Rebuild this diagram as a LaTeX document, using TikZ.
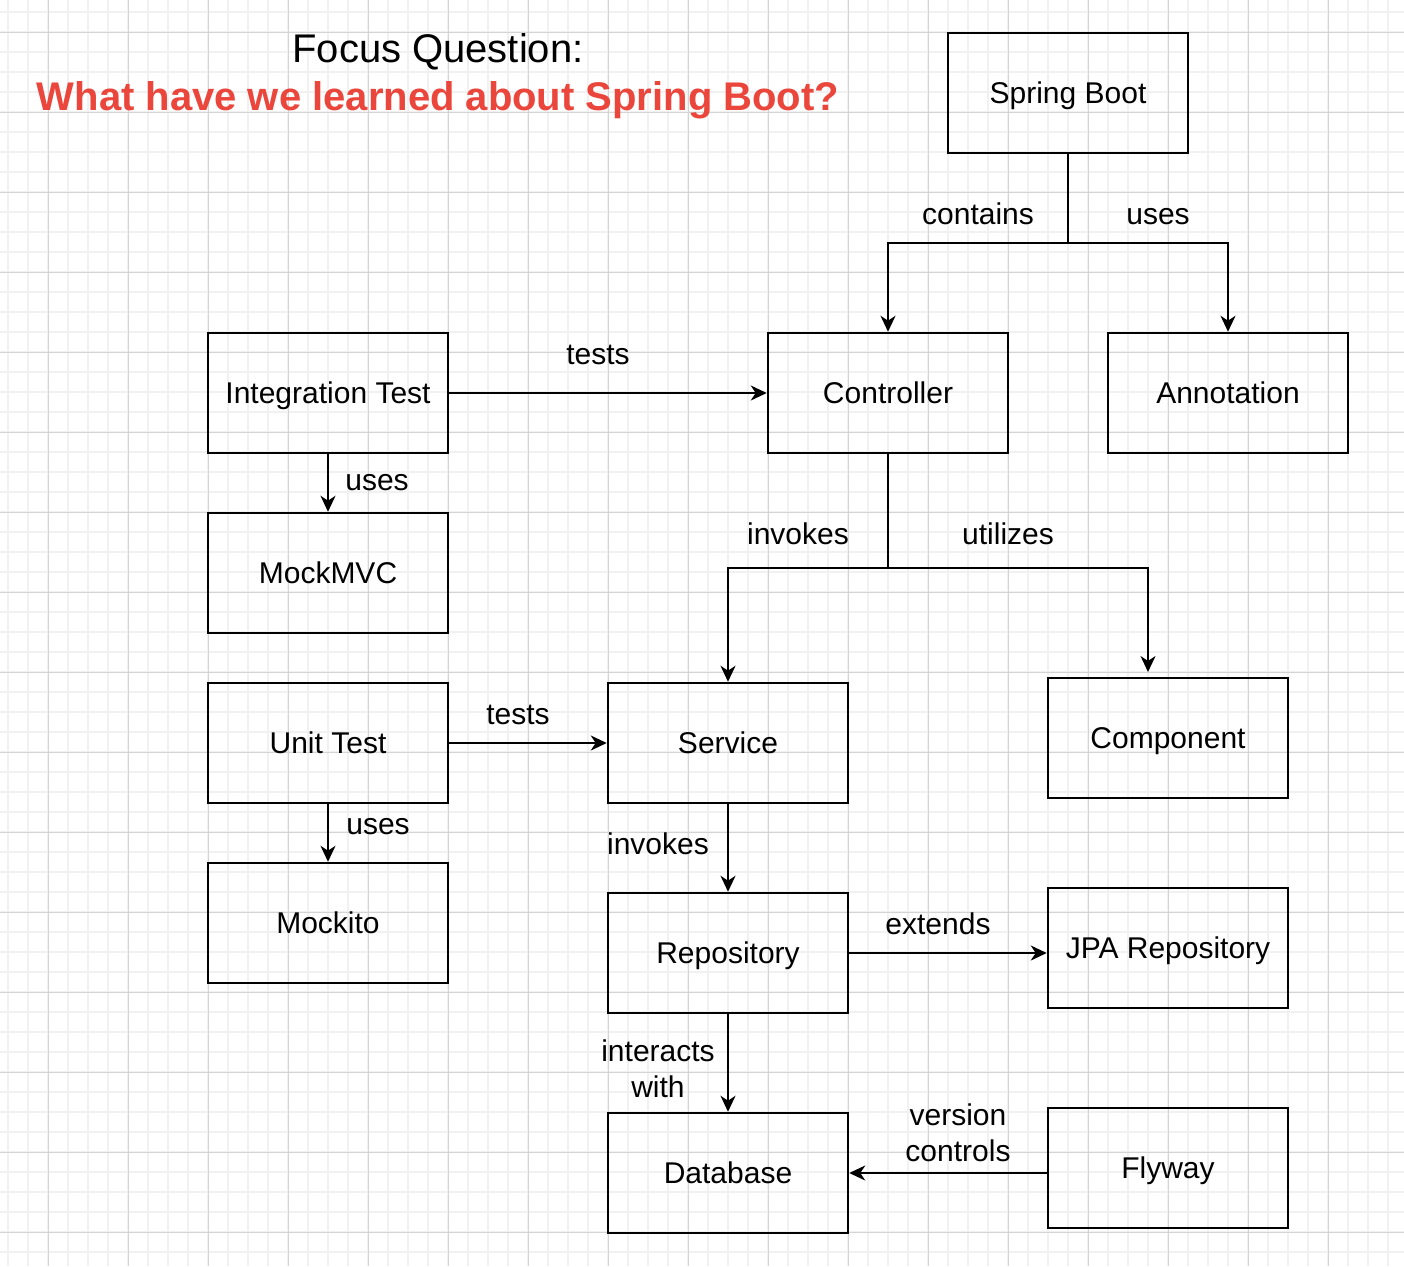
\documentclass[tikz,border=0pt]{standalone}
\usepackage{fontspec}
\setmainfont{Liberation Sans}
\usetikzlibrary{arrows.meta}
\definecolor{titlered}{RGB}{234,70,60}
\definecolor{minorgrid}{RGB}{241,241,241}
\definecolor{majorgrid}{RGB}{212,212,212}
\begin{document}
\begin{tikzpicture}[x=1pt,y=-1pt,
  box/.style={draw, line width=2.5pt, minimum width=240pt, minimum height=120pt, inner sep=0pt, text height=21.5pt, text depth=0pt, font=\fontsize{30}{36}\selectfont},
  lbl/.style={inner sep=0pt, align=center, font=\fontsize{30}{36}\selectfont},
  conn/.style={line width=2.3pt},
  arr/.style={line width=2.3pt, -{Stealth[length=16pt,width=15pt,inset=5pt]}}]
\useasboundingbox (0,0) rectangle (1404,1266);
\fill[white] (0,0) rectangle (1404,1266);
% grid
\foreach \x in {8,28,...,1404} \draw[minorgrid, line width=1.5pt] (\x,0) -- (\x,1266);
\foreach \y in {12,32,...,1266} \draw[minorgrid, line width=1.5pt] (0,\y) -- (1404,\y);
\foreach \x in {48,128,...,1404} \draw[majorgrid, line width=1pt] (\x,0) -- (\x,1266);
\foreach \y in {32,112,...,1266} \draw[majorgrid, line width=1pt] (0,\y) -- (1404,\y);
% title
\node[anchor=base, inner sep=0pt, font=\fontsize{40}{48}\selectfont] (t1) at (438,62) {Focus Question:};
\node[anchor=base, inner sep=0pt, text=titlered, font=\fontsize{40}{48}\selectfont\bfseries] (t2) at (438,110) {What have we learned about Spring Boot?};
% boxes
\node[box] (sb) at (1068,93) {Spring Boot};
\node[box] (ctrl) at (888,393) {Controller};
\node[box] (ann) at (1228,393) {Annotation};
\node[box] (it) at (328,393) {Integration Test};
\node[box] (mvc) at (328,573) {MockMVC};
\node[box] (ut) at (328,743) {Unit Test};
\node[box] (mck) at (328,923) {Mockito};
\node[box] (svc) at (728,743) {Service};
\node[box] (comp) at (1168,738) {Component};
\node[box] (repo) at (728,953) {Repository};
\node[box] (jpa) at (1168,948) {JPA Repository};
\node[box] (db) at (728,1173) {Database};
\node[box] (fly) at (1168,1168) {Flyway};
% connectors
\coordinate (j1) at (1068,243);
\draw[conn] (sb.south) -- (j1);
\draw[arr] (j1) -| (ctrl.north);
\draw[arr] (j1) -| (ann.north);
\coordinate (j2) at (888,568);
\coordinate (c1) at (1148,672);
\draw[conn] (ctrl.south) -- (j2);
\draw[arr] (j2) -| (svc.north);
\draw[arr] (j2) -| (c1);
\draw[arr] (it.east) -- (ctrl.west);
\draw[arr] (it.south) -- (mvc.north);
\draw[arr] (ut.east) -- (svc.west);
\draw[arr] (ut.south) -- (mck.north);
\draw[arr] (svc.south) -- (repo.north);
\draw[arr] (repo.east) -- (jpa.west |- repo.east);
\draw[arr] (repo.south) -- (db.north);
\draw[arr] (fly.west |- db.east) -- (db.east);
% labels
\node[lbl, anchor=base] (l1) at (978,224) {contains};
\node[lbl, anchor=base] (l2) at (1158,224) {uses};
\node[lbl, anchor=base] (l3) at (598,364) {tests};
\node[lbl, anchor=base] (l4) at (377,490) {uses};
\node[lbl, anchor=base] (l5) at (798,544) {invokes};
\node[lbl, anchor=base] (l6) at (1008,544) {utilizes};
\node[lbl, anchor=base] (l7) at (518,724) {tests};
\node[lbl, anchor=base] (l8) at (378,834) {uses};
\node[lbl, anchor=base] (l9) at (658,854) {invokes};
\node[lbl, anchor=base] (l10) at (938,934) {extends};
\node[lbl] (l11) at (658,1069) {interacts\\with};
\node[lbl] (l12) at (958,1133) {version\\controls};
\end{tikzpicture}
\end{document}
